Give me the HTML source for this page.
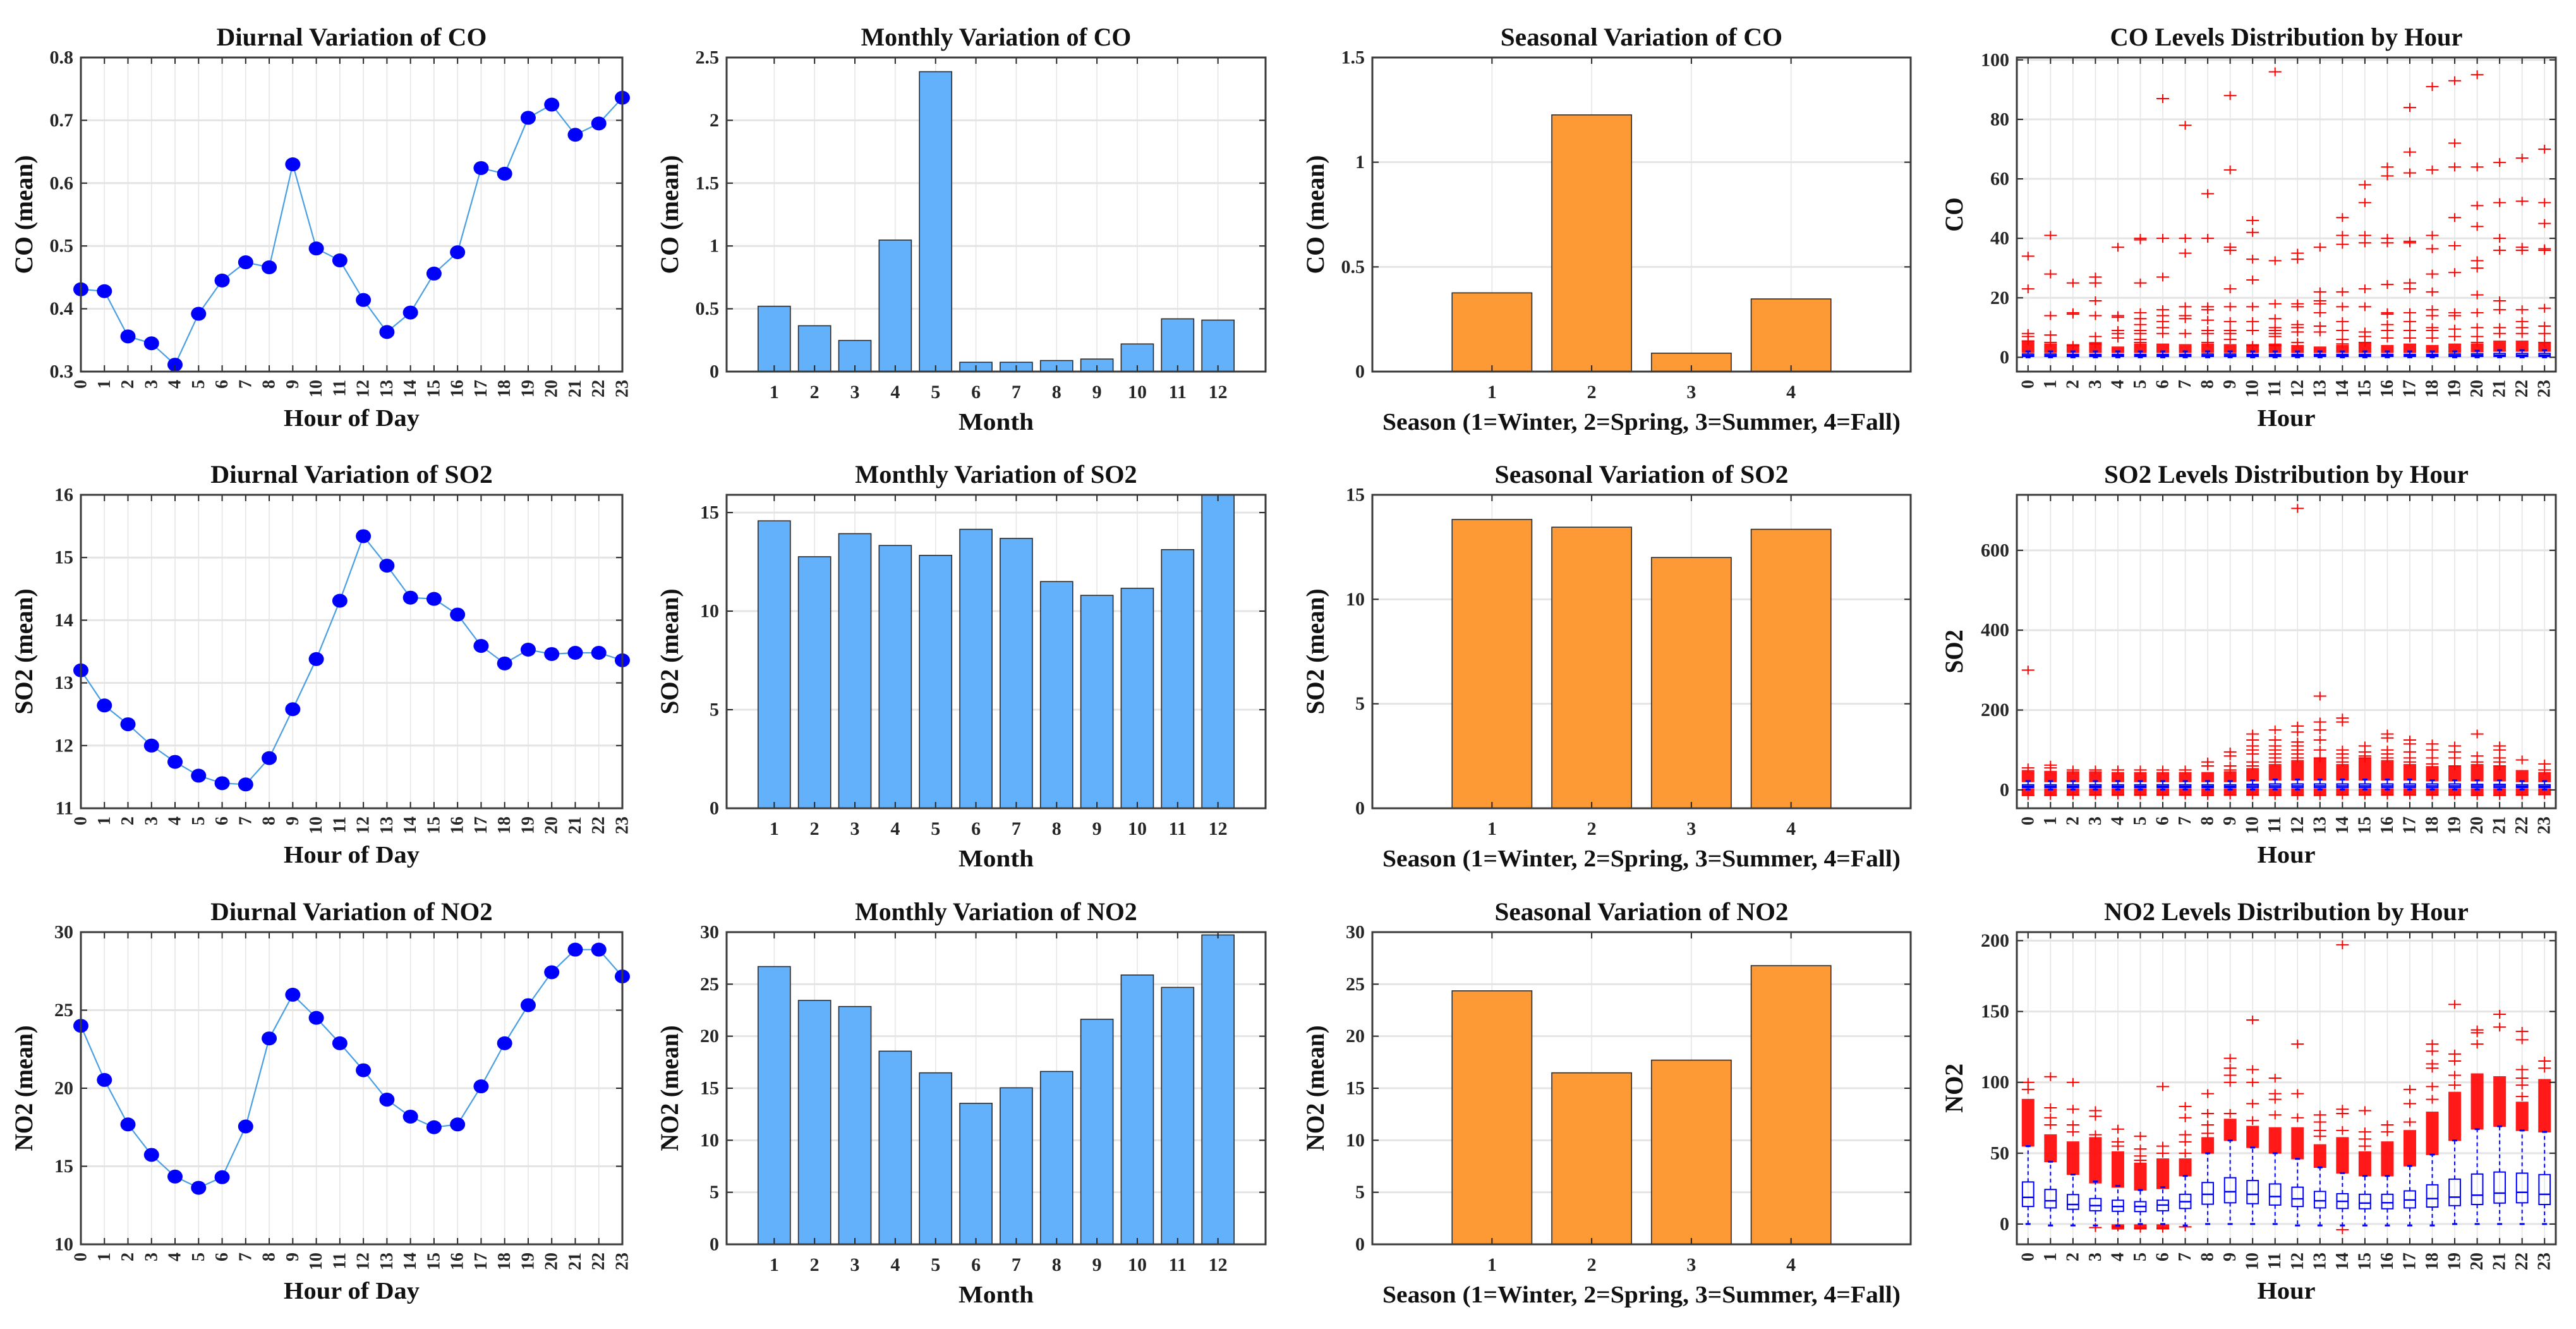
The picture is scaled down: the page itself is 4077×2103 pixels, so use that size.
<!DOCTYPE html>
<html><head><meta charset="utf-8"><title>Air pollutant variation</title>
<style>
html,body{margin:0;padding:0;background:#fff;}
svg{display:block;font-family:"Liberation Serif",serif;}
</style></head>
<body>
<svg id="chart" width="4077" height="2103" viewBox="0 0 4077 2103" xmlns="http://www.w3.org/2000/svg">
<rect x="0" y="0" width="4077" height="2103" fill="#ffffff"/>
</svg>
<script>
// ---------- data ----------
const hours = [0,1,2,3,4,5,6,7,8,9,10,11,12,13,14,15,16,17,18,19,20,21,22,23];
const months = [1,2,3,4,5,6,7,8,9,10,11,12];
const seasons = [1,2,3,4];

const coDiurnal = [0.431,0.428,0.356,0.345,0.311,0.392,0.445,0.474,0.466,0.630,0.496,0.477,0.414,0.363,0.394,0.456,0.490,0.624,0.615,0.704,0.725,0.677,0.695,0.736];
const so2Diurnal = [13.20,12.64,12.34,12.00,11.74,11.52,11.40,11.38,11.80,12.58,13.38,14.31,15.34,14.87,14.36,14.34,14.09,13.59,13.31,13.53,13.46,13.48,13.48,13.36];
const no2Diurnal = [24.0,20.53,17.68,15.73,14.34,13.62,14.3,17.55,23.19,25.99,24.51,22.88,21.15,19.27,18.18,17.5,17.68,20.12,22.88,25.32,27.43,28.88,28.88,27.16];

const coMonthly = [0.52,0.365,0.248,1.047,2.387,0.074,0.074,0.088,0.10,0.22,0.42,0.41];
const so2Monthly = [14.58,12.76,13.93,13.33,12.83,14.15,13.69,11.50,10.80,11.16,13.12,16.0];
const no2Monthly = [26.69,23.44,22.85,18.56,16.48,13.55,15.04,16.61,21.63,25.88,24.69,29.73];

const coSeasonal = [0.376,1.226,0.088,0.347];
const so2Seasonal = [13.82,13.45,12.0,13.35];
const no2Seasonal = [24.36,16.48,17.7,26.78];

// boxplot statistics per hour
const coQ1 = [0.3,0.3,0.3,0.3,0.3,0.3,0.3,0.3,0.3,0.3,0.3,0.3,0.3,0.3,0.3,0.3,0.3,0.3,0.3,0.3,0.3,0.3,0.3,0.3];
const coMed = [0.6,0.6,0.6,0.6,0.6,0.6,0.6,0.6,0.6,0.6,0.6,0.6,0.6,0.6,0.6,0.6,0.6,0.6,0.6,0.6,0.7,0.7,0.7,0.7];
const coQ3 = [1.1,1.1,1.0,1.0,1.0,1.0,1.0,1.0,1.1,1.1,1.0,1.0,1.0,1.0,1.0,1.0,1.0,1.0,1.0,1.1,1.2,1.3,1.3,1.3];
const coWLo = [0,0,0,0,0,0,0,0,0,0,0,0,0,0,0,0,0,0,0,0,0,0,0,0];
const coWHi = [2,2,2,2,2,2,2,2,2,2,2,2,2,2,2,2,2,2,2,2,2.2,2.4,2.4,2.4];
const coBandLo = [2.1,2.1,2.1,2.1,2.1,2.1,2.1,2.1,2.1,2.1,2.1,2.1,2.1,2.1,2.1,2.1,2.1,2.1,2.1,2.1,2.3,2.5,2.5,2.5];
const coBandHi = [5,4,3.8,4.5,3,4,4,3.8,4,3.8,3.8,4,3.5,3,3.5,4.5,3.5,4,3.5,4,4,5,5,4.5];
const coOut = [[34,23,8,7,5.5],[41,28,14,7.5,5],[25,15,14.5,4],[27,25,19,14,7,4.5],[37,14,13.5,9,8,6.5],[40,39.5,25,15,13,11,9,8,6,5],[87,40,27,16,14,12,10,8],[78,40,35,17,14,13,8],[55,40,17,16,12.5,9,8,5],[88,63,37,36,23,17,12,9,8,6],[46,42,33,26,17,12,9,4],[96,32.5,18,13,10,9,8,7,4],[35,33,18,17,11,10,8.5,5],[37,22,19,18,15,10.5,8.5],[47,41,38,22,17,12,9,6,4.5],[58,52,41,38.5,23,17,8.5,7,5],[64,61,40,38.5,24.5,15,14.5,11,9,6.5],[84,69,62,39,38.5,25,23,15,12,9,6.5],[91,63,41,36.5,28,22,16,14,10,9,6.5],[93,72,64,47,37.5,28.5,15,14,9.5,7],[95,64,51,44,32.5,30,21,15,10,7,5],[65.5,52,40,36,19,16,10,8],[67,52.5,37,36,16,12,10,8],[70,52,45,36.5,36,16.5,10.5,8,5]];
const coLowOut = [[],[],[],[],[],[],[],[],[],[],[],[],[],[],[],[],[],[],[],[],[],[],[],[]];
const coLowBand = [null,null,null,null,null,null,null,null,null,null,null,null,null,null,null,null,null,null,null,null,null,null,null,null];

const so2Q1 = [6,6,6,6,6,6,6,6,6,6,6,6,6,6,6,6,6,6,6,6,6,6,6,6];
const so2Med = [9,9,9,9,9,9,9,9,9,9,10,10,10,10,10,10,10,10,10,10,10,10,9,9];
const so2Q3 = [13,13,13,13,13,13,13,13,13,13,14,15,15,15,15,15,15,15,15,15,14,14,13,13];
const so2WLo = [1,1,1,1,1,1,1,1,1,1,1,1,1,1,1,1,1,1,1,1,1,1,1,1];
const so2WHi = [22,22,22,22,22,22,22,22,22,22,24,26,26,26,26,26,26,26,24,24,24,24,22,22];
const so2BandLo = [24,24,24,24,24,24,24,24,24,24,26,28,28,28,28,28,28,28,26,26,26,26,24,24];
const so2BandHi = [45,43,42,42,40,40,40,40,40,42,50,60,70,75,60,75,70,60,55,55,60,55,45,40];
const so2Out = [[55,300],[55,62],[50],[50],[50],[50],[50],[50],[60,70],[50,60,85,95],[60,70,90,100,110,125,140],[70,80,90,100,110,125,150],[80,90,100,110,120,145,160,705],[80,100,125,150,170,235],[70,80,90,100,170,180],[80,85,95,110],[80,90,100,130,140],[70,80,95,115,125],[65,80,100,115],[60,80,95,110],[70,85,140],[60,70,80,100,110],[75],[50,65]];
const so2LowOut = [[-14],[-14],[-13],[-13],[-13],[-13],[-13],[-13],[-14],[-13],[-13],[-14],[-14],[-14],[-13],[-13],[-13],[-13],[-13],[-13],[-14],[-14],[-13],[-12]];
const so2LowBand = [[-10,-1],[-10,-1],[-10,-1],[-10,-1],[-10,-1],[-10,-1],[-10,-1],[-10,-1],[-10,-1],[-10,-1],[-10,-1],[-10,-1],[-8,-1],[-8,-1],[-8,-1],[-8,-1],[-8,-1],[-8,-1],[-10,-1],[-10,-1],[-10,-1],[-10,-1],[-10,-1],[-8,-1]];

const no2Q1 = [12.4,11.4,10.4,9.4,9,8.8,9.4,11,14,15,14.4,13.4,12.4,11.4,11,10.8,10.8,11.4,12,13,13.8,14.8,15,13.8];
const no2Med = [18.8,16.4,13.8,13,12.4,12.4,13.4,15.8,21,22.8,21,19.4,17.8,16.4,16,14.8,15,17,18,19,20.4,21.8,22.4,21];
const no2Q3 = [29.7,24.4,20.8,18,16.8,15.8,16.8,21,29.3,32.7,30.7,28.3,26,23,21.4,21,21,23.4,27.7,31.7,35.3,36.7,35.9,34.9];
const no2WLo = [0,-1,-1,-1,-1,0,0,-1,0,0,0,0,-1,-1,-1,-1,-1,-1,-1,0,0,0,0,0];
const no2WHi = [55,44,35,30,27,24,26,34,50,59,54,50,46,40,36,34,34,41,49,59,67,69,66,65];
const no2BandLo = [56,45,36,30,27,25,26,35,51,60,55,51,47,41,37,35,35,42,50,60,68,70,67,66];
const no2BandHi = [87,62,57,60,50,42,45,45,60,73,68,67,67,55,60,50,57,65,78,92,105,103,85,101];
const no2Out = [[95,100],[70,75,82,104],[65,70,81,100],[63,76,80],[55,58,67],[45,48,53,62],[50,55,97],[50,58,63,75,83],[64,70,78,92],[78,100,105,110,117],[73,85,100,109,144],[77,88,92,103],[75,92,127],[62,66,72,77],[66,78,81,197],[55,60,65,80],[65,70],[72,85,95],[88,97,110,113,122,127],[98,105,115,120,155],[127,135,137],[139,148],[90,98,103,109,130,136],[110,115]];
const no2LowOut = [[],[],[],[-2.5],[-2],[-3],[-3],[-2],[],[],[],[],[],[],[-4],[],[],[],[],[],[],[],[],[]];
const no2LowBand = [null,null,null,null,[-2.5,-1.5],[-2.5,-1.5],[-2.5,-1.5],null,null,null,null,null,null,null,null,null,null,null,null,null,null,null,null,null];

const coDiurnalTicks = [0.3,0.4,0.5,0.6,0.7,0.8];
const coMonthlyTicks = [0,0.5,1,1.5,2,2.5];
const coSeasonalTicks = [0,0.5,1,1.5];
const coBoxTicks = [0,20,40,60,80,100];
const so2DiurnalTicks = [11,12,13,14,15,16];
const so2BarTicks = [0,5,10,15];
const so2BoxTicks = [0,200,400,600];
const no2DiurnalTicks = [10,15,20,25,30];
const no2BarTicks = [0,5,10,15,20,25,30];
const no2BoxTicks = [0,50,100,150,200];

// ---------- helpers ----------
const NS = 'http://www.w3.org/2000/svg';
const svg = document.getElementById('chart');
function mk(tag, attrs, parent) {
  const e = document.createElementNS(NS, tag);
  for (const k in attrs) e.setAttribute(k, attrs[k]);
  (parent || svg).appendChild(e);
  return e;
}
const COLS = [[128,985],[1150,2003],[2172,3024],[3192,4045]];
const ROWS = [[91,588],[783,1279],[1475,1969]];
function panel(col,row,xlim,ylim,name){
  const x0=COLS[col][0],x1=COLS[col][1],y0=ROWS[row][0],y1=ROWS[row][1];
  const g = mk('g',{});
  
  
  return {g,col,x0,x1,y0,y1,
    sx:v=>x0+(v-xlim[0])/(xlim[1]-xlim[0])*(x1-x0),
    sy:v=>y1-(v-ylim[0])/(ylim[1]-ylim[0])*(y1-y0)};
}
function fmt(v){return String(Math.round(v*100)/100);}
function grid(p,xt,yt){
  const gg = mk('g',{},p.g);
  
  
  xt.forEach(v=>{
    const l=mk('line',{x1:p.sx(v),x2:p.sx(v),y1:p.y0,y2:p.y1,stroke:'#e6e6e6','stroke-width':1.6},gg);
    
    
  });
  yt.forEach(v=>{
    const l=mk('line',{x1:p.x0,x2:p.x1,y1:p.sy(v),y2:p.sy(v),stroke:'#e4e4e4','stroke-width':3},gg);
    
    
  });
}
function frame(p,o){
  const fg = mk('g',{},p.g);
  
  
  o.xt.forEach(v=>{
    const x=p.sx(v);
    const t1=mk('line',{x1:x,x2:x,y1:p.y1,y2:p.y1-10,stroke:'#262626','stroke-width':2},fg);
    
    
    const t2=mk('line',{x1:x,x2:x,y1:p.y0,y2:p.y0+10,stroke:'#262626','stroke-width':2},fg);
    
    
    let lab;
    if (o.rot) {
      lab=mk('text',{x:x,y:p.y1+13,transform:`rotate(-90 ${x} ${p.y1+13})`,'text-anchor':'end','dominant-baseline':'central','font-size':28,'font-weight':'bold',fill:'#262626'},fg);
    } else {
      lab=mk('text',{x:x,y:p.y1+42,'text-anchor':'middle','font-size':30,'font-weight':'bold',fill:'#262626'},fg);
    }
    lab.textContent=fmt(v);
    
    
  });
  o.yt.forEach(v=>{
    const y=p.sy(v);
    const t1=mk('line',{x1:p.x0,x2:p.x0+10,y1:y,y2:y,stroke:'#262626','stroke-width':2},fg);
    
    
    const t2=mk('line',{x1:p.x1,x2:p.x1-10,y1:y,y2:y,stroke:'#262626','stroke-width':2},fg);
    
    
    const lab=mk('text',{x:p.x0-12,y:y,'text-anchor':'end','dominant-baseline':'central','font-size':30,'font-weight':'bold',fill:'#262626'},fg);
    lab.textContent=fmt(v);
    
    
  });
  const box=mk('rect',{x:p.x0,y:p.y0,width:p.x1-p.x0,height:p.y1-p.y0,fill:'none',stroke:'#3a3a3a','stroke-width':3},fg);
  
  
  const cx=(p.x0+p.x1)/2;
  const t=mk('text',{x:cx,y:p.y0-19,'text-anchor':'middle','font-size':40,'font-weight':'bold',fill:'#111',textLength:o.title.length*18.6,lengthAdjust:'spacingAndGlyphs'},fg);
  t.textContent=o.title;
  
  
  const xl=mk('text',{x:cx,y:p.y1+(o.rot?86:92),'text-anchor':'middle','font-size':38,'font-weight':'bold',fill:'#111',textLength:o.xlabW,lengthAdjust:'spacingAndGlyphs'},fg);
  xl.textContent=o.xlab;
  
  
  const yx=p.x0-(p.col===3?86:77), yc=(p.y0+p.y1)/2;
  const yl=mk('text',{x:yx,y:yc,transform:`rotate(-90 ${yx} ${yc})`,'text-anchor':'middle','font-size':40,'font-weight':'bold',fill:'#111',textLength:o.ylabW,lengthAdjust:'spacingAndGlyphs'},fg);
  yl.textContent=o.ylab;
  
  
}
function lineChart(row,vals,ylim,yt,pol){
  const p=panel(0,row,[0,23],ylim,'diurnal-'+pol.toLowerCase()+'-panel');
  grid(p,hours,yt);
  const pts=hours.map((h,i)=>p.sx(h)+','+p.sy(vals[i])).join(' ');
  const pl=mk('polyline',{points:pts,fill:'none',stroke:'#4a9fe3','stroke-width':2.2},p.g);
  
  
  hours.forEach((h,i)=>{
    const c=mk('ellipse',{cx:p.sx(h),cy:p.sy(vals[i]),rx:12,ry:11,fill:'#0000ff'},p.g);
    
    
  });
  frame(p,{xt:hours,yt:yt,rot:true,title:'Diurnal Variation of '+pol,xlab:'Hour of Day',xlabW:215,ylab:pol+' (mean)',ylabW:pol.length>2?199:188});
}
function barChart(col,row,cats,vals,xlim,ylim,yt,color,title,xlab,xlabW,ylab,name){
  const p=panel(col,row,xlim,ylim,name);
  grid(p,cats,yt);
  const w=(p.sx(1)-p.sx(0))*0.8;
  cats.forEach((c,i)=>{
    const top=Math.max(p.sy(vals[i]),p.y0);
    const r=mk('rect',{x:p.sx(c)-w/2,y:top,width:w,height:p.sy(0)-top,fill:color,stroke:'#2b2b2b','stroke-width':1.6},p.g);
    
    
  });
  frame(p,{xt:cats,yt:yt,rot:false,title:title,xlab:xlab,xlabW:xlabW,ylab:ylab,ylabW:ylab.length>9?199:188});
}
function plus(p,g,h,v){
  const x=p.sx(h),y=p.sy(v);
  if (y<p.y0||y>p.y1) return;
  const pa=mk('path',{d:`M${x-10},${y}H${x+10}M${x},${y-7}V${y+7}`,stroke:'#ff0000','stroke-width':2,fill:'none'},g);
  
  
}
function band(p,g,h,lo,hi){
  const x=p.sx(h), ya=p.sy(hi)-3, yb=p.sy(lo)+3;
  const r=mk('rect',{x:x-10,y:ya,width:20,height:yb-ya,fill:'#ff0000','fill-opacity':0.9},g);
  
  
}
function boxChart(row,ylim,yt,q1,med,q3,wlo,whi,blo,bhi,out,lowOut,lowBand,pol,ylabW){
  const p=panel(3,row,[-0.5,23.5],ylim,pol.toLowerCase()+'-boxplot-panel');
  grid(p,hours,yt);
  const bw=(p.sx(1)-p.sx(0))*0.5;
  hours.forEach((h,i)=>{
    const g=mk('g',{},p.g);
    
    
    const x=p.sx(h);
    band(p,g,h,blo[i],bhi[i]);
    if (lowBand[i]) band(p,g,h,lowBand[i][0],lowBand[i][1]);
    out[i].forEach(v=>plus(p,g,h,v));
    lowOut[i].forEach(v=>plus(p,g,h,v));
    const wk=mk('path',{d:`M${x},${p.sy(q3[i])}V${p.sy(whi[i])}M${x},${p.sy(q1[i])}V${p.sy(wlo[i])}`,stroke:'#0000ff','stroke-width':2,'stroke-dasharray':'6,5',fill:'none'},g);
    
    
    const cap=mk('path',{d:`M${x-4},${p.sy(whi[i])}H${x+4}M${x-4},${p.sy(wlo[i])}H${x+4}`,stroke:'#0000ff','stroke-width':3},g);
    
    
    const bx=mk('rect',{x:x-bw/2,y:p.sy(q3[i]),width:bw,height:Math.max(p.sy(q1[i])-p.sy(q3[i]),2),fill:'none',stroke:'#0000ff','stroke-width':2},g);
    
    
    const md=mk('line',{x1:x-bw/2,x2:x+bw/2,y1:p.sy(med[i]),y2:p.sy(med[i]),stroke:'#0000ff','stroke-width':2.5},g);
    
    
  });
  frame(p,{xt:hours,yt:yt,rot:true,title:pol+' Levels Distribution by Hour',xlab:'Hour',xlabW:92,ylab:pol,ylabW:ylabW});
}

// ---------- draw ----------
const SEASON_LAB='Season (1=Winter, 2=Spring, 3=Summer, 4=Fall)';
const BLUE='#63b0fb', ORANGE='#fd9a35';
const MX=[-0.18,13.18], SX=[-0.2,5.2];

lineChart(0,coDiurnal,[0.3,0.8],coDiurnalTicks,'CO');
barChart(1,0,months,coMonthly,MX,[0,2.5],coMonthlyTicks,BLUE,'Monthly Variation of CO','Month',119,'CO (mean)','monthly-co-panel');
barChart(2,0,seasons,coSeasonal,SX,[0,1.5],coSeasonalTicks,ORANGE,'Seasonal Variation of CO',SEASON_LAB,820,'CO (mean)','seasonal-co-panel');
boxChart(0,[-4.8,100.8],coBoxTicks,coQ1,coMed,coQ3,coWLo,coWHi,coBandLo,coBandHi,coOut,coLowOut,coLowBand,'CO',54);

lineChart(1,so2Diurnal,[11,16],so2DiurnalTicks,'SO2');
barChart(1,1,months,so2Monthly,MX,[0,15.9],so2BarTicks,BLUE,'Monthly Variation of SO2','Month',119,'SO2 (mean)','monthly-so2-panel');
barChart(2,1,seasons,so2Seasonal,SX,[0,15],so2BarTicks,ORANGE,'Seasonal Variation of SO2',SEASON_LAB,820,'SO2 (mean)','seasonal-so2-panel');
boxChart(1,[-46,739],so2BoxTicks,so2Q1,so2Med,so2Q3,so2WLo,so2WHi,so2BandLo,so2BandHi,so2Out,so2LowOut,so2LowBand,'SO2',69);

lineChart(2,no2Diurnal,[10,30],no2DiurnalTicks,'NO2');
barChart(1,2,months,no2Monthly,MX,[0,30],no2BarTicks,BLUE,'Monthly Variation of NO2','Month',119,'NO2 (mean)','monthly-no2-panel');
barChart(2,2,seasons,no2Seasonal,SX,[0,30],no2BarTicks,ORANGE,'Seasonal Variation of NO2',SEASON_LAB,820,'NO2 (mean)','seasonal-no2-panel');
boxChart(2,[-14.3,206],no2BoxTicks,no2Q1,no2Med,no2Q3,no2WLo,no2WHi,no2BandLo,no2BandHi,no2Out,no2LowOut,no2LowBand,'NO2',78);
</script>
</body></html>
